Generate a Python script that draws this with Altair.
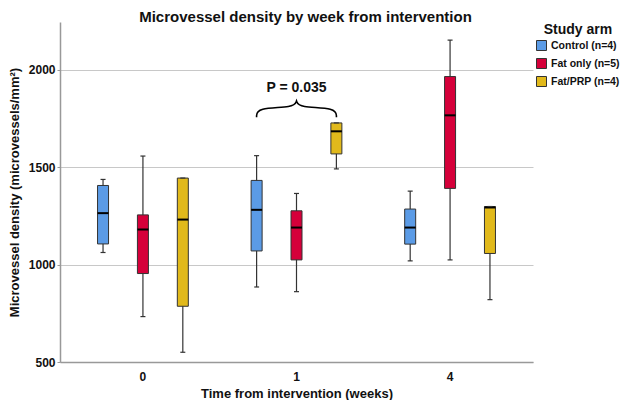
import altair as alt
import pandas as pd

weeks = ["0", "1", "4"]
arms = ["Control (n=4)", "Fat only (n=5)", "Fat/PRP (n=4)"]
colors = ["#5b9be6", "#d5003a", "#e1b91b"]

# per week, per arm (Control, Fat only, Fat/PRP)
lo = [[1062, 733, 550], [885, 861, 1491], [1019, 1024, 820]]
q1 = [[1106, 954, 786], [1070, 1024, 1568], [1105, 1391, 1057]]
med = [[1264, 1180, 1231], [1281, 1190, 1684], [1190, 1766, 1293]]
q3 = [[1406, 1255, 1444], [1432, 1276, 1727], [1285, 1965, 1298]]
hi = [[1437, 1557, 1444], [1559, 1365, 1727], [1377, 2152, 1298]]

# brace annotation over week 1 (x in group-index units, y in data units)
brace_x = [0.74, 0.74, 0.985, 1.0, 1.0, 1.0, 1.015, 1.26, 1.26]
brace_y = [1756, 1806, 1806, 1840, 1840, 1840, 1806, 1806, 1756]
p_label = "P = 0.035"
p_x = 1.0
p_y = 1905

rows = []
for i, w in enumerate(weeks):
    for j, a in enumerate(arms):
        rows.append(dict(week=w, arm=a, lo=lo[i][j], q1=q1[i][j], med=med[i][j],
                         q3=q3[i][j], hi=hi[i][j]))
df = pd.DataFrame(rows)

FONT = "Liberation Sans"

x = alt.X("week:N", sort=weeks, title="Time from intervention (weeks)",
          scale=alt.Scale(paddingInner=0, paddingOuter=0.04),
          axis=alt.Axis(labelAngle=0, ticks=False, labelFontSize=12, labelFontWeight="bold",
                        titleFontSize=13, titleFontWeight="bold", labelPadding=9,
                        titlePadding=5, domainColor="#999999", domainWidth=1.5,
                        labelColor="#111", titleColor="#111", grid=False))
xo = alt.XOffset("arm:N", sort=arms, scale=alt.Scale(paddingInner=0, paddingOuter=0.425))
yscale = alt.Scale(domain=[500, 2245], nice=False, zero=False)
yaxis = alt.Axis(values=[500, 1000, 1500, 2000], format="d",
                 title="Microvessel density (microvessels/mm²)",
                 labelFontSize=12, labelFontWeight="bold", titleFontSize=13,
                 titleFontWeight="bold", grid=True, gridColor="#c8c8c8", gridWidth=1,
                 domainColor="#999999", domainWidth=1.5, tickColor="#999999", tickSize=3,
                 labelPadding=2, titlePadding=7, labelColor="#111", titleColor="#111")

base = alt.Chart(df)
color = alt.Color("arm:N", sort=arms, scale=alt.Scale(domain=arms, range=colors),
                  legend=alt.Legend(title="Study arm", orient="none", legendX=476, legendY=1,
                                    symbolType="square", symbolSize=100,
                                    symbolStrokeColor="#333", symbolStrokeWidth=1,
                                    symbolOpacity=1, labelFontSize=10.5,
                                    labelFontWeight="bold", titleFontSize=14,
                                    titleFontWeight="bold", rowPadding=3, labelOffset=4,
                                    titlePadding=3, labelColor="#111", titleColor="#111",
                                    titleAnchor="middle", labelLimit=200))

whisk = base.mark_rule(color="#333333", strokeWidth=1.2).encode(
    x=x, xOffset=xo, y=alt.Y("lo:Q", scale=yscale, axis=yaxis), y2="hi:Q")
box = base.mark_bar(size=11, stroke="#333333", strokeWidth=1, opacity=1).encode(
    x=x, xOffset=xo, y=alt.Y("q1:Q", scale=yscale, axis=yaxis), y2="q3:Q", color=color)
median = base.mark_tick(color="#000000", thickness=2, size=11, opacity=1).encode(
    x=x, xOffset=xo, y=alt.Y("med:Q", scale=yscale, axis=yaxis))
cap_lo = base.mark_tick(color="#333333", thickness=1.2, size=5, opacity=1).encode(
    x=x, xOffset=xo, y=alt.Y("lo:Q", scale=yscale, axis=yaxis))
cap_hi = base.mark_tick(color="#333333", thickness=1.2, size=5, opacity=1).encode(
    x=x, xOffset=xo, y=alt.Y("hi:Q", scale=yscale, axis=yaxis))

main = alt.layer(whisk, box, median, cap_lo, cap_hi)

bdf = pd.DataFrame({"bx": brace_x, "by": brace_y, "order": list(range(len(brace_x)))})
xq = alt.Scale(domain=[-0.54, 2.54], nice=False, zero=False)
brace = alt.Chart(bdf).mark_line(color="#000000", strokeWidth=1.6, interpolate="basis").encode(
    x=alt.X("bx:Q", scale=xq, axis=None), y=alt.Y("by:Q", scale=yscale, axis=yaxis),
    order="order:Q")
ptext = alt.Chart(pd.DataFrame({"tx": [p_x], "ty": [p_y], "t": [p_label]})).mark_text(
    font=FONT, fontSize=14, fontWeight="bold", color="#111").encode(
    x=alt.X("tx:Q", scale=xq, axis=None), y=alt.Y("ty:Q", scale=yscale, axis=yaxis), text="t:N")
annot = alt.layer(brace, ptext)

chart = alt.layer(main, annot).resolve_scale(x="independent").properties(
    width=473, height=340,
    autosize=alt.AutoSizeParams(type="none"),
    padding={"left": 52, "top": 14, "right": 88, "bottom": 38},
    title=alt.TitleParams("Microvessel density by week from intervention", fontSize=15,
                          fontWeight="bold", font=FONT, anchor="middle", offset=-3, dx=9,
                          color="#111"),
).configure(font=FONT).configure_view(stroke=None)

chart.save("out.html", embed_options={"renderer": "svg", "actions": False})
